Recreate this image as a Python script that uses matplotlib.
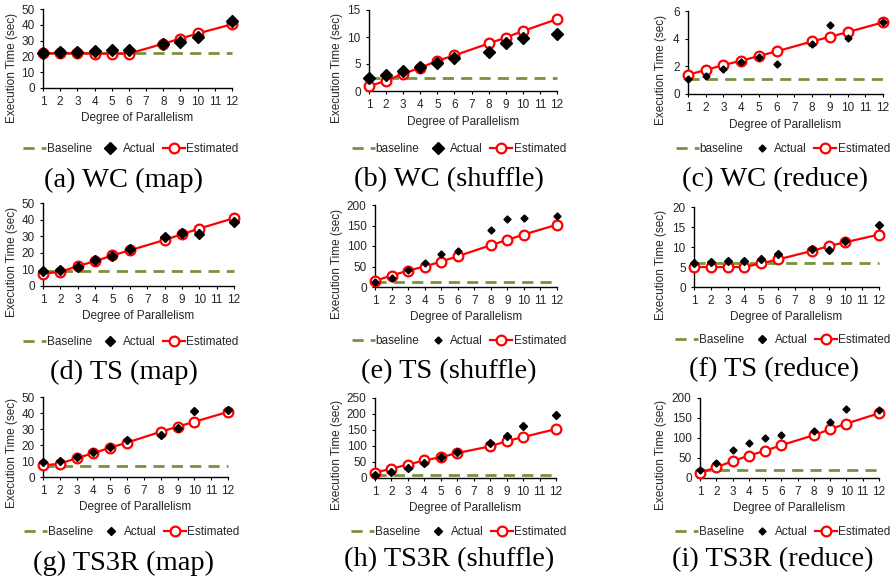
"""Actual vs estimated execution time for WC / TS / TS3R stages (3x3 panel grid)."""
import matplotlib
matplotlib.use("Agg")
import matplotlib.pyplot as plt

plt.rcParams["font.family"] = ["Liberation Sans", "DejaVu Sans"]

# ---- data -------------------------------------------------------------------
categories = [1, 2, 3, 4, 5, 6, 7, 8, 9, 10, 11, 12]
dop = [1, 2, 3, 4, 5, 6, 8, 9, 10, 12]          # measured degrees of parallelism

wc_map_base = 22.0
wc_map_actual = [22.0, 22.5, 22.7, 23.5, 24.2, 24.2, 28.0, 29.0, 32.4, 42.4]
wc_map_est = [22.0, 22.0, 22.0, 21.8, 21.8, 21.8, 28.0, 31.3, 34.5, 40.3]

wc_shuffle_base = 2.4
wc_shuffle_actual = [2.4, 3.0, 3.7, 4.5, 5.1, 6.2, 7.2, 8.8, 9.9, 10.6]
wc_shuffle_est = [0.9, 1.9, 3.2, 4.3, 5.6, 6.6, 8.8, 9.9, 11.1, 13.3]

wc_reduce_base = 1.08
wc_reduce_actual = [1.08, 1.3, 1.83, 2.34, 2.65, 2.17, 3.6, 4.96, 4.02, 5.18]
wc_reduce_est = [1.4, 1.73, 2.1, 2.4, 2.75, 3.08, 3.8, 4.13, 4.47, 5.18]

ts_map_base = 8.9
ts_map_actual = [8.9, 9.5, 11.7, 15.4, 18.0, 22.5, 29.6, 32.2, 31.6, 38.3]
ts_map_est = [7.5, 8.5, 12.0, 15.0, 18.4, 21.5, 27.7, 31.2, 34.6, 40.9]

ts_shuffle_base = 11.5
ts_shuffle_actual = [12, 23, 41, 58, 81, 88, 139, 165, 168, 172]
ts_shuffle_est = [15, 28, 40, 50, 62, 75, 102, 115, 128, 152]

ts_reduce_base = 5.95
ts_reduce_actual = [5.9, 6.2, 6.4, 6.5, 6.9, 8.3, 9.4, 9.3, 11.5, 15.6]
ts_reduce_est = [5.0, 5.0, 5.0, 5.0, 5.9, 6.9, 9.0, 10.2, 11.2, 13.1]

ts3r_map_base = 7.0
ts3r_map_actual = [9.1, 9.7, 12.2, 15.7, 19.0, 23.1, 26.4, 30.8, 41.3, 42.1]
ts3r_map_est = [7.2, 8.3, 11.8, 14.9, 18.4, 21.5, 28.3, 31.4, 34.5, 40.7]

ts3r_shuffle_base = 10
ts3r_shuffle_actual = [10, 19, 31, 46, 65, 80, 109, 132, 162, 197]
ts3r_shuffle_est = [17, 29, 42, 55, 65, 78, 99, 115, 128, 153]

ts3r_reduce_base = 20
ts3r_reduce_actual = [21, 37.5, 70, 87.5, 100, 107, 118, 140, 173, 170]
ts3r_reduce_est = [12.5, 27, 42, 56, 68, 82, 107, 122, 136, 162]

captions = ["(a) WC (map)", "(b) WC (shuffle)", "(c) WC (reduce)",
            "(d) TS (map)", "(e) TS (shuffle)", "(f) TS (reduce)",
            "(g) TS3R (map)", "(h) TS3R (shuffle)", "(i) TS3R (reduce)"]
baseline_names = ["Baseline", "baseline", "baseline",
                  "Baseline", "baseline", "Baseline",
                  "Baseline", "Baseline", "Baseline"]
y_max = [50, 15, 6, 50, 200, 20, 50, 250, 200]
y_step = [10, 5, 2, 10, 50, 5, 10, 50, 50]

series = [
    (wc_map_base, wc_map_actual, wc_map_est),
    (wc_shuffle_base, wc_shuffle_actual, wc_shuffle_est),
    (wc_reduce_base, wc_reduce_actual, wc_reduce_est),
    (ts_map_base, ts_map_actual, ts_map_est),
    (ts_shuffle_base, ts_shuffle_actual, ts_shuffle_est),
    (ts_reduce_base, ts_reduce_actual, ts_reduce_est),
    (ts3r_map_base, ts3r_map_actual, ts3r_map_est),
    (ts3r_shuffle_base, ts3r_shuffle_actual, ts3r_shuffle_est),
    (ts3r_reduce_base, ts3r_reduce_actual, ts3r_reduce_est),
]

# ---- layout (pixels: left, top, right, bottom of plot area) -----------------
W, H = 896, 582
boxes = [(43, 9, 232, 88), (369, 10, 557, 91), (688, 11, 883, 94),
         (43, 203, 234, 286), (375, 205, 557, 287), (694, 207, 879, 287),
         (43, 397, 228, 477), (375, 398, 556, 478), (700, 398, 879, 478)]
ylabel_xy = [(12, 68), (337, 68), (661, 70),
             (12, 262), (337, 264), (661, 265),
             (12, 453), (337, 455), (661, 455)]
xlabel_y = [118, 122, 125, 316, 317, 317, 507, 508, 508]
legend_xy = [(131, 149), (459, 149), (783, 149),
             (131, 342), (459, 341), (783, 340),
             (132, 532), (459, 532), (783, 532)]
caption_xy = [(123, 180), (449, 180), (775, 180),
              (124, 372), (449, 372), (774, 370),
              (123, 563), (449, 560), (773, 560)]
diamond_px = [11, 12, 7, 9, 7, 8, 8, 8, 7]

GREEN = "#77933C"
RED = "#FF0000"
TXT = "#262626"
FS = 8.5

fig = plt.figure(figsize=(W / 100, H / 100), dpi=100)
pos = {c: i for i, c in enumerate(categories)}
xs = [pos[d] for d in dop]
xcat = list(range(len(categories)))

for k, (base, actual, est) in enumerate(series):
    l, t, r, b = boxes[k]
    ax = fig.add_axes([l / W, 1 - b / H, (r - l) / W, (b - t) / H])

    hb, = ax.plot(xcat, [base] * len(categories), color=GREEN, lw=2.0,
                  ls=(0, (4.0, 2.6)), zorder=2, clip_on=False)
    he, = ax.plot(xs, est, color=RED, lw=1.6, marker="o", ms=7.0,
                  mfc="white", mec=RED, mew=1.6, zorder=3, clip_on=False)
    ha, = ax.plot(xs, actual, ls="none", marker="D",
                  ms=diamond_px[k] * 0.72 / 1.414, color="black",
                  zorder=4, clip_on=False)

    ax.set_xlim(0, len(categories) - 1)
    ax.set_ylim(0, y_max[k])
    ax.set_xticks(xcat)
    ax.set_xticklabels([str(c) for c in categories])
    ax.set_yticks(list(range(0, y_max[k] + 1, y_step[k])))
    ax.tick_params(axis="x", length=2.5, pad=3, labelsize=FS, colors=TXT)
    ax.tick_params(axis="y", length=2.5, pad=3.5, labelsize=FS, colors=TXT)
    ax.tick_params(color="black")
    for s in ("top", "right"):
        ax.spines[s].set_visible(False)
    for s in ("left", "bottom"):
        ax.spines[s].set_linewidth(1.0)
        ax.spines[s].set_color("black")
    ax.patch.set_visible(False)

    ax.set_xlabel("Degree of Parallelism", fontsize=FS, color=TXT)
    ax.xaxis.label.set_va("center")
    ax.xaxis.set_label_coords(0.5, (b - xlabel_y[k]) / (b - t))
    ax.set_ylabel("Execution Time (sec)", fontsize=FS, color=TXT)
    ax.yaxis.label.set_va("center")
    yx, yy = ylabel_xy[k]
    ax.yaxis.set_label_coords((yx - l) / (r - l), (b - yy) / (b - t))

    lx, ly = legend_xy[k]
    fig.legend([hb, ha, he], [baseline_names[k], "Actual", "Estimated"],
               loc="center", bbox_to_anchor=(lx / W, 1 - ly / H), ncol=3,
               frameon=False, fontsize=FS, handlelength=1.9,
               handletextpad=0.1, columnspacing=0.6, labelcolor=TXT,
               borderpad=0.1)

    cx, cy = caption_xy[k]
    fig.text(cx / W, 1 - cy / H, captions[k], ha="center", va="center",
             fontsize=20.5, family=["Liberation Serif", "DejaVu Serif"])

fig.savefig("out.png", dpi=100)
